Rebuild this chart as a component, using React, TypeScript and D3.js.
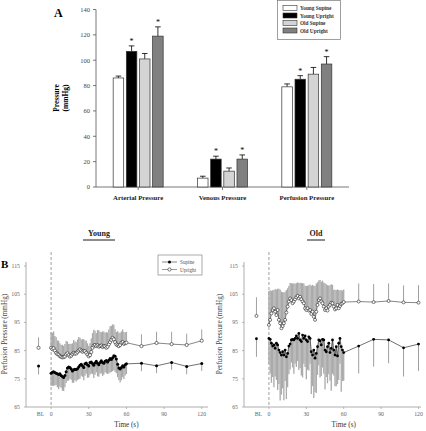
import React from 'react';
import * as d3 from 'd3';

// ---------- Panel A data ----------
const categories = ['Arterial Pressure', 'Venous Pressure', 'Perfusion Pressure'];
const groups = ['Young Supine', 'Young Upright', 'Old Supine', 'Old Upright'];
const youngSupineBars = [86, 7, 79];
const youngUprightBars = [107, 22, 85];
const oldSupineBars = [101, 12.5, 89];
const oldUprightBars = [119, 22, 97];
const youngSupineBarErr = [1.5, 1.5, 2.3];
const youngUprightBarErr = [4.3, 2.3, 2.8];
const oldSupineBarErr = [4.3, 2.5, 5.3];
const oldUprightBarErr = [7.3, 3.3, 5.8];
const youngSupineStar = [false, false, false];
const youngUprightStar = [true, true, true];
const oldSupineStar = [false, false, false];
const oldUprightStar = [true, true, true];
const barYTicks = [0, 20, 40, 60, 80, 100, 120, 140];

// ---------- Panel B data ----------
const denseTimes = d3.range(0, 61);
const sparseTimes = [72, 84, 96, 108, 120];
const bottomYTicks = [65, 75, 85, 95, 105, 115];
const bottomXTicks = [0, 30, 60, 90, 120];

const youngSupine = [77.0, 77.3, 77.5, 77.2, 77.0, 76.8, 76.5, 76.8, 76.2, 75.8, 75.5, 76.2, 77.5, 78.8, 79.2, 79.0, 78.5, 77.8, 78.2, 78.4, 78.3, 78.6, 79.2, 79.8, 80.2, 79.6, 79.0, 80.3, 80.6, 80.0, 79.5, 80.8, 81.0, 80.4, 79.8, 80.6, 81.2, 80.5, 80.0, 80.8, 81.4, 80.8, 80.5, 81.2, 81.5, 81.0, 81.6, 82.2, 81.8, 82.5, 83.2, 83.0, 82.0, 80.2, 78.8, 78.5, 79.0, 79.6, 79.2, 80.0, 80.3];
const youngSupineErr = [4.5, 4.8, 5.0, 4.6, 4.2, 4.8, 5.2, 4.6, 4.4, 5.0, 4.8, 4.2, 4.0, 4.5, 4.8, 4.0, 3.8, 4.2, 4.6, 3.9, 4.3, 4.0, 4.4, 4.8, 4.1, 3.9, 4.5, 4.2, 3.8, 4.6, 4.0, 4.4, 4.1, 3.7, 4.5, 4.2, 3.9, 4.6, 4.3, 4.0, 4.4, 4.8, 4.1, 3.9, 4.5, 4.3, 4.7, 5.0, 4.4, 4.8, 5.2, 5.5, 5.0, 4.6, 4.2, 4.8, 4.5, 4.0, 4.3, 3.8, 3.6];
const youngUpright = [86.0, 85.5, 85.8, 85.0, 84.2, 83.8, 83.5, 83.0, 82.8, 82.6, 82.7, 82.9, 83.6, 84.0, 83.4, 82.9, 83.2, 83.8, 84.2, 83.9, 84.0, 84.5, 85.0, 85.4, 85.0, 84.6, 84.9, 84.8, 84.2, 83.6, 83.0, 83.4, 84.5, 86.0, 86.8, 87.0, 86.6, 86.9, 86.4, 86.6, 86.8, 86.3, 86.6, 86.5, 86.0, 86.4, 87.2, 88.0, 88.8, 89.5, 89.0, 88.0, 87.2, 86.9, 86.6, 87.0, 87.8, 88.0, 87.4, 87.6, 87.8];
const youngUprightErr = [5.5, 5.8, 6.0, 5.2, 5.6, 4.8, 5.0, 4.6, 4.2, 4.5, 4.0, 4.4, 4.8, 4.2, 3.9, 4.5, 4.1, 3.8, 4.6, 4.3, 4.0, 4.4, 4.8, 4.2, 3.9, 4.5, 4.1, 3.8, 4.3, 4.0, 3.6, 4.2, 4.8, 5.2, 5.6, 5.0, 4.6, 5.4, 5.8, 5.1, 4.7, 5.5, 5.2, 4.8, 5.6, 5.0, 5.3, 5.6, 5.0, 4.8, 5.2, 4.6, 4.4, 5.0, 4.7, 4.3, 4.0, 4.5, 4.2, 3.9, 3.8];
const youngSupineSparse = [80.5, 79.6, 80.8, 79.4, 80.4];
const youngSupineSparseErr = [2.8, 2.6, 2.6, 2.8, 2.6];
const youngUprightSparse = [86.6, 87.7, 87.3, 87.0, 88.5];
const youngUprightSparseErr = [4.2, 4.0, 4.4, 4.0, 4.0];
const youngBL = { supine: 79.5, supineErr: 3.0, upright: 86.0, uprightErr: 3.7 };

const oldSupine = [89.3, 89.0, 87.6, 86.6, 87.0, 85.8, 87.6, 87.0, 85.2, 84.3, 83.4, 84.6, 83.4, 85.2, 82.8, 84.0, 86.6, 87.3, 88.8, 89.0, 88.8, 89.3, 90.2, 89.3, 91.1, 88.8, 88.2, 90.5, 89.3, 90.2, 88.8, 88.2, 89.9, 89.3, 84.6, 83.4, 85.2, 82.3, 84.0, 86.4, 88.8, 88.5, 87.0, 89.0, 88.8, 85.2, 84.6, 86.4, 87.6, 84.3, 85.8, 88.8, 85.2, 83.4, 86.4, 83.1, 87.6, 89.3, 86.4, 85.2, 84.3];
const oldSupineErr = [9, 12, 14, 11, 15, 10, 13, 16, 12, 17, 14, 13, 16, 11, 15, 12, 10, 9, 8, 10, 12, 9, 11, 8, 13, 10, 12, 15, 9, 11, 14, 10, 12, 9, 15, 11, 17, 12, 14, 10, 9, 13, 11, 10, 12, 14, 9, 13, 11, 10, 15, 12, 9, 11, 14, 10, 13, 9, 16, 11, 10];
const oldUpright = [94.1, 95.9, 98.2, 99.4, 100.0, 98.8, 97.6, 99.4, 95.9, 94.7, 92.9, 93.7, 94.7, 95.9, 98.5, 100.6, 102.4, 103.5, 102.9, 101.8, 102.4, 103.2, 103.9, 104.4, 103.5, 104.1, 103.2, 102.4, 101.8, 100.0, 99.4, 100.0, 99.2, 99.4, 98.0, 98.8, 97.0, 95.9, 98.8, 101.2, 102.9, 103.5, 102.4, 101.8, 100.6, 99.4, 100.0, 99.2, 100.6, 101.2, 102.0, 101.8, 100.6, 99.6, 100.0, 101.2, 100.0, 100.8, 101.5, 101.8, 102.2];
const oldUprightErr = [12, 10.5, 8, 7, 6.5, 8, 9, 7.5, 11, 12, 13, 12, 11, 10, 8, 6.5, 5.5, 5.5, 6, 7, 6.5, 5.5, 5, 4.8, 5.5, 5, 5.8, 6.5, 7, 8, 8.5, 8, 9, 9, 10, 9.5, 11, 12, 10, 8, 7, 6.5, 7, 8, 8.5, 9.5, 8.5, 9, 7.5, 7, 6.5, 6.5, 6, 7, 6.5, 5.5, 6.5, 5.5, 5, 4.5, 4.5];
const oldSupineSparse = [86.6, 89.0, 88.8, 86.0, 87.3];
const oldSupineSparseErr = [9.7, 9.7, 8.3, 10.2, 9.5];
const oldUprightSparse = [102.4, 102.2, 102.6, 102.1, 102.0];
const oldUprightSparseErr = [6.4, 6.4, 6.2, 6.0, 6.2];
const oldBL = { supine: 89.2, supineErr: 6.4, upright: 97.3, uprightErr: 6.6 };

const FONT = '"Liberation Serif", "Times New Roman", serif';

function PanelA() {
  const y = d3.scaleLinear().domain([0, 140]).range([187, 9.5]);
  const x0 = d3.scaleBand<string>().domain(categories).range([96, 349]);
  const x1 = d3.scaleBand<string>().domain(groups).range([-25, 25]).paddingInner(0.2);
  const series = [
    { name: groups[0], vals: youngSupineBars, err: youngSupineBarErr, star: youngSupineStar, fill: '#ffffff' },
    { name: groups[1], vals: youngUprightBars, err: youngUprightBarErr, star: youngUprightStar, fill: '#000000' },
    { name: groups[2], vals: oldSupineBars, err: oldSupineBarErr, star: oldSupineStar, fill: '#d4d4d4' },
    { name: groups[3], vals: oldUprightBars, err: oldUprightBarErr, star: oldUprightStar, fill: '#808080' },
  ];
  const bw = x1.bandwidth();
  return (
    <g>
      <text x={54} y={17} fontSize={12} fontWeight="bold" fontFamily={FONT}>A</text>
      <line x1={96} x2={96} y1={y(0)} y2={y(140)} stroke="#555" strokeWidth={0.8} />
      {barYTicks.map((t) => (
        <g key={t}>
          <line x1={93} x2={96} y1={y(t)} y2={y(t)} stroke="#555" strokeWidth={0.8} />
          <text x={90} y={y(t) + 2.3} fontSize={6.5} textAnchor="end" fill="#444" fontFamily={FONT}>{t}</text>
        </g>
      ))}
      <text transform={`translate(59,${98}) rotate(-90)`} fontSize={7.5} fontWeight="bold" textAnchor="middle" fontFamily={FONT}>Pressure</text>
      <text transform={`translate(67.5,${98}) rotate(-90)`} fontSize={7.5} fontWeight="bold" textAnchor="middle" fontFamily={FONT}>(mmHg)</text>
      <line x1={96} x2={349} y1={y(0)} y2={y(0)} stroke="#555" strokeWidth={0.8} />
      {categories.map((c) => {
        const cx = (x0(c) as number) + x0.bandwidth() / 2;
        return (
          <g key={c}>
            <line x1={cx} x2={cx} y1={y(0)} y2={y(0) + 3} stroke="#555" strokeWidth={0.8} />
            <text x={cx} y={200} fontSize={6.8} fontWeight="bold" textAnchor="middle" fill="#222" fontFamily={FONT}>{c}</text>
          </g>
        );
      })}
      {series.map((s) =>
        categories.map((c, i) => {
          const cx = (x0(c) as number) + x0.bandwidth() / 2;
          const bx = cx + (x1(s.name) as number);
          const top = y(s.vals[i]);
          const etop = y(s.vals[i] + s.err[i]);
          const mid = bx + bw / 2;
          return (
            <g key={s.name + c}>
              <line x1={mid} x2={mid} y1={top} y2={etop} stroke="#000" strokeWidth={0.8} />
              <line x1={mid - 2.8} x2={mid + 2.8} y1={etop} y2={etop} stroke="#000" strokeWidth={0.8} />
              <rect x={bx} y={top} width={bw} height={y(0) - top} fill={s.fill} stroke="#333" strokeWidth={0.7} />
              {s.star[i] && (
                <text x={mid} y={etop - 2} fontSize={8} textAnchor="middle" fontFamily={FONT}>*</text>
              )}
            </g>
          );
        })
      )}
      <rect x={277.5} y={0.5} width={63} height={39} fill="#fff" stroke="#777" strokeWidth={0.7} />
      {series.map((s, i) => (
        <g key={s.name}>
          <rect x={283} y={5.5 + i * 7.5} width={14} height={5} fill={s.fill} stroke="#333" strokeWidth={0.6} />
          <text x={300} y={10.2 + i * 7.5} fontSize={5.3} fontWeight="bold" fill="#333" fontFamily={FONT}>{s.name}</text>
        </g>
      ))}
    </g>
  );
}

type PanelBProps = {
  left: number;
  right: number;
  tMax: number;
  supine: number[];
  supineErr: number[];
  upright: number[];
  uprightErr: number[];
  supineSparse: number[];
  supineSparseErr: number[];
  uprightSparse: number[];
  uprightSparseErr: number[];
  bl: { supine: number; supineErr: number; upright: number; uprightErr: number };
  labelX: number;
  legend: boolean;
  r: number;
};

function PanelB(p: PanelBProps) {
  const x = d3.scaleLinear().domain([-20, p.tMax]).range([p.left, p.right]);
  const y = d3.scaleLinear().domain([65, 115]).range([407, 266]);
  const BLT = -10;
  const supPts = [...denseTimes.map((t, i) => ({ t, v: p.supine[i], e: p.supineErr[i], dense: true })),
    ...sparseTimes.map((t, i) => ({ t, v: p.supineSparse[i], e: p.supineSparseErr[i], dense: false }))];
  const upPts = [...denseTimes.map((t, i) => ({ t, v: p.upright[i], e: p.uprightErr[i], dense: true })),
    ...sparseTimes.map((t, i) => ({ t, v: p.uprightSparse[i], e: p.uprightSparseErr[i], dense: false }))];
  const line = d3.line<{ t: number; v: number }>().x((d) => x(d.t)).y((d) => y(d.v));
  const cx = (x(0) + x(120)) / 2;
  return (
    <g fontFamily={FONT}>
      <line x1={p.left} x2={p.left} y1={262} y2={407} stroke="#999" strokeWidth={0.8} />
      {bottomYTicks.map((t) => (
        <g key={t}>
          <line x1={p.left - 2} x2={p.left} y1={y(t)} y2={y(t)} stroke="#999" strokeWidth={0.7} />
          <text x={p.left - 6} y={y(t) + 2} fontSize={5.8} textAnchor="end" fill="#666">{t}</text>
        </g>
      ))}
      <line x1={p.left} x2={p.right} y1={407} y2={407} stroke="#999" strokeWidth={0.8} />
      {bottomXTicks.map((t) => (
        <g key={t}>
          <line x1={x(t)} x2={x(t)} y1={407} y2={409} stroke="#999" strokeWidth={0.7} />
          <text x={x(t)} y={416} fontSize={5.8} textAnchor="middle" fill="#666">{t}</text>
        </g>
      ))}
      <text x={x(BLT) + 2} y={416} fontSize={5.8} textAnchor="middle" fill="#666">BL</text>
      <text x={cx} y={427} fontSize={7.2} textAnchor="middle" fill="#333">Time (s)</text>
      <text transform={`translate(${p.labelX},334) rotate(-90)`} fontSize={7.2} textAnchor="middle" fill="#444">Perfusion Pressure (mmHg)</text>
      <line x1={x(0)} x2={x(0)} y1={252} y2={407} stroke="#888" strokeWidth={0.8} strokeDasharray="3,2" />
      {supPts.map((d) => (
        <line key={'se' + d.t} x1={x(d.t)} x2={x(d.t)} y1={y(d.v)} y2={y(d.v - d.e)} stroke={d.dense ? '#aaa' : '#888'} strokeWidth={d.dense ? 1.3 : 0.8} />
      ))}
      {upPts.map((d) => (
        <line key={'ue' + d.t} x1={x(d.t)} x2={x(d.t)} y1={y(d.v)} y2={y(d.v + d.e)} stroke={d.dense ? '#aaa' : '#888'} strokeWidth={d.dense ? 1.3 : 0.8} />
      ))}
      <line x1={x(BLT)} x2={x(BLT)} y1={y(p.bl.supine)} y2={y(p.bl.supine - p.bl.supineErr)} stroke="#888" strokeWidth={0.8} />
      <line x1={x(BLT)} x2={x(BLT)} y1={y(p.bl.upright)} y2={y(p.bl.upright + p.bl.uprightErr)} stroke="#888" strokeWidth={0.8} />
      <path d={line(supPts) || ''} fill="none" stroke="#333" strokeWidth={0.7} />
      <path d={line(upPts) || ''} fill="none" stroke="#555" strokeWidth={0.7} />
      {upPts.map((d) => (
        <circle key={'um' + d.t} cx={x(d.t)} cy={y(d.v)} r={p.r + 0.1} fill="#fff" stroke="#222" strokeWidth={0.6} />
      ))}
      {supPts.map((d) => (
        <circle key={'sm' + d.t} cx={x(d.t)} cy={y(d.v)} r={p.r} fill="#000" />
      ))}
      <circle cx={x(BLT)} cy={y(p.bl.upright)} r={p.r + 0.1} fill="#fff" stroke="#222" strokeWidth={0.6} />
      <circle cx={x(BLT)} cy={y(p.bl.supine)} r={p.r} fill="#000" />
      {p.legend && (
        <g>
          <rect x={158} y={255} width={44} height={20} fill="#fff" stroke="#888" strokeWidth={0.7} />
          <line x1={162} x2={177} y1={262} y2={262} stroke="#333" strokeWidth={0.6} />
          <circle cx={169.5} cy={262} r={1.5} fill="#000" />
          <text x={180} y={264} fontSize={5.2} fill="#555">Supine</text>
          <line x1={162} x2={177} y1={269.5} y2={269.5} stroke="#555" strokeWidth={0.6} />
          <circle cx={169.5} cy={269.5} r={1.6} fill="#fff" stroke="#222" strokeWidth={0.6} />
          <text x={180} y={271.5} fontSize={5.2} fill="#555">Upright</text>
        </g>
      )}
    </g>
  );
}

export default function App() {
  return (
    <svg width={426} height={431} viewBox="0 0 426 431" style={{ position: 'absolute', left: 0, top: 0, background: '#fff' }} fontFamily={FONT}>
      <rect x={0} y={0} width={426} height={431} fill="#fff" />
      <PanelA />
      <text x={99} y={236} fontSize={8} fontWeight="bold" textAnchor="middle" fill="#222">Young</text>
      <line x1={83} x2={115} y1={240} y2={240} stroke="#000" strokeWidth={0.9} />
      <text x={316} y={236} fontSize={8} fontWeight="bold" textAnchor="middle" fill="#222">Old</text>
      <line x1={307} x2={325} y1={240} y2={240} stroke="#000" strokeWidth={0.9} />
      <text x={1} y={268} fontSize={11} fontWeight="bold" fill="#000">B</text>
      <PanelB left={26} right={208} tMax={125}
        supine={youngSupine} supineErr={youngSupineErr} upright={youngUpright} uprightErr={youngUprightErr}
        supineSparse={youngSupineSparse} supineSparseErr={youngSupineSparseErr}
        uprightSparse={youngUprightSparse} uprightSparseErr={youngUprightSparseErr}
        bl={youngBL} labelX={7} legend={true} r={1.5} />
      <PanelB left={244} right={421} tMax={122}
        supine={oldSupine} supineErr={oldSupineErr} upright={oldUpright} uprightErr={oldUprightErr}
        supineSparse={oldSupineSparse} supineSparseErr={oldSupineSparseErr}
        uprightSparse={oldUprightSparse} uprightSparseErr={oldUprightSparseErr}
        bl={oldBL} labelX={222} legend={false} r={1.4} />
    </svg>
  );
}
